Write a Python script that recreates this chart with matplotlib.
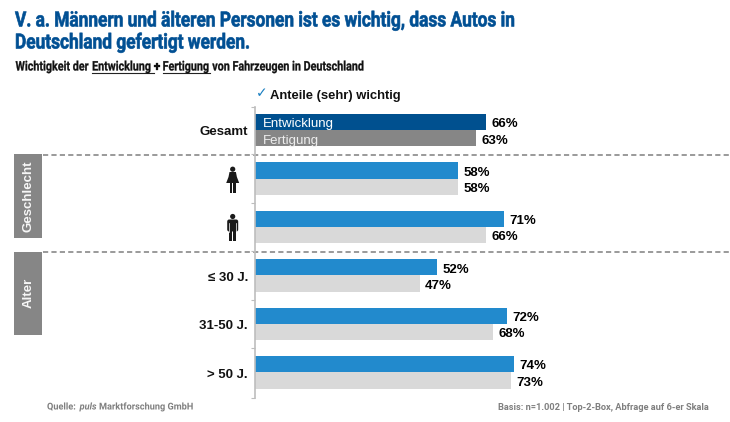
import matplotlib
matplotlib.use('Agg')
import matplotlib.pyplot as plt
from matplotlib.patches import Rectangle, Circle, Polygon, FancyBboxPatch
from matplotlib.patheffects import AbstractPathEffect
from matplotlib.transforms import Affine2D

# data
groups = ['Gesamt', 'w', 'm', '≤ 30 J.', '31-50 J.', '> 50 J.']
entwicklung = [66, 58, 71, 52, 72, 74]
fertigung = [63, 58, 66, 47, 68, 73]
colors_top = ['#00508f', '#228acd', '#228acd', '#228acd', '#228acd', '#228acd']
colors_bottom = ['#868686', '#d9d9d9', '#d9d9d9', '#d9d9d9', '#d9d9d9', '#d9d9d9']

arial = 'Liberation Sans'
W, H = 730, 422


# no condensed font installed, so squeeze the glyphs of real text sideways
class Condense(AbstractPathEffect):
    def __init__(self, sx, x0, heavy=0):
        super().__init__()
        self.sx = sx
        self.x0 = x0
        self.heavy = heavy

    def draw_path(self, renderer, gc, tpath, affine, rgbFace=None):
        squeeze = Affine2D().translate(-self.x0, 0).scale(self.sx, 1).translate(self.x0, 0)
        gc0 = renderer.new_gc()
        gc0.copy_properties(gc)
        if self.heavy:
            gc0.set_linewidth(self.heavy)
            gc0.set_foreground(rgbFace)
        renderer.draw_path(gc0, tpath, affine + squeeze, rgbFace)
        gc0.restore()


fig = plt.figure(figsize=(7.3, 4.22), dpi=100)

# bars: 3.5 px per percent, group spacing 48.4 px
ax = fig.add_axes([255 / W, 1 - 397.5 / H, 350 / W, 290 / H])
ax.set_xlim(0, 100)
ax.set_ylim(5.52, -0.47)
ax.patch.set_alpha(0)
h = 0.335
dy = 0.045
ypos = list(range(len(groups)))
ax.barh([y - h / 2 for y in ypos], entwicklung, height=h, color=colors_top)
ax.barh([y + h / 2 for y in ypos], fertigung, height=h, color=colors_bottom)
for y, a, b in zip(ypos, entwicklung, fertigung):
    ax.text(a + 1.6, y - h / 2 + dy, f'{a}%', va='center', ha='left', fontsize=9.5,
            fontweight='bold', family=arial, color='#000000')
    ax.text(b + 1.6, y + h / 2 + dy, f'{b}%', va='center', ha='left', fontsize=9.5,
            fontweight='bold', family=arial, color='#000000')
ax.text(2.2, -h / 2 + dy, 'Entwicklung', va='center', fontsize=9.5, color='white', family=arial)
ax.text(2.2, h / 2 + dy, 'Fertigung', va='center', fontsize=9.5, color='#eeeeee', family=arial)
for s in ['top', 'right', 'bottom']:
    ax.spines[s].set_visible(False)
ax.spines['left'].set_color('#bdbdbd')
ax.spines['left'].set_linewidth(1.2)
ax.set_xticks([])
ax.set_yticks([i + 0.5 for i in ypos[:-1]] + [-0.47, 5.52])
ax.set_yticklabels([])
ax.tick_params(axis='y', length=3, color='#bdbdbd', width=0.8)

for y, g in zip(ypos, groups):
    if g in ('w', 'm'):
        continue
    ax.text(-2, y + dy, g, ha='right', va='center', fontsize=9.5, fontweight='bold',
            family=arial, color='#111111')

# overlays in pixel coordinates for decorations
ov = fig.add_axes([0, 0, 1, 1], zorder=-1)
ov.set_xlim(0, W)
ov.set_ylim(H, 0)
ov.axis('off')
top = fig.add_axes([0, 0, 1, 1], zorder=5)
top.set_xlim(0, W)
top.set_ylim(H, 0)
top.axis('off')

for y in [155, 252]:
    ov.plot([43, W], [y, y], color='#7f7f7f', lw=1.1, dashes=(3.4, 2.1))
top.add_patch(Rectangle((14, 154), 28, 84, color='#868686', lw=0))
top.add_patch(Rectangle((14, 252), 28, 83, color='#868686', lw=0))
top.text(28.5, 196.5, 'Geschlecht', rotation=90, ha='center', va='center', color='#f7f7f7',
         fontsize=9.5, fontweight='bold', family=arial)
top.text(28.5, 292.5, 'Alter', rotation=90, ha='center', va='center', color='#f7f7f7',
         fontsize=9.5, fontweight='bold', family=arial)


# person icons
def woman(cx, cy):
    c = '#1a1a1a'
    top.add_patch(Circle((cx, cy - 10.8), 2.6, color=c, lw=0))
    top.add_patch(Polygon([(cx - 3.2, cy - 8), (cx + 3.2, cy - 8), (cx + 4.2, cy - 3), (cx + 6.5, cy + 3),
                           (cx - 6.5, cy + 3), (cx - 4.2, cy - 3)], color=c, lw=0))
    top.add_patch(Rectangle((cx - 2.8, cy + 3), 2.3, 10, color=c, lw=0))
    top.add_patch(Rectangle((cx + 0.5, cy + 3), 2.3, 10, color=c, lw=0))


def man(cx, cy):
    c = '#1a1a1a'
    top.add_patch(Circle((cx, cy - 11.5), 2.6, color=c, lw=0))
    top.add_patch(FancyBboxPatch((cx - 5.5, cy - 8.5), 11, 12, boxstyle='round,pad=0,rounding_size=2', color=c, lw=0))
    top.add_patch(Rectangle((cx - 3.4, cy), 3.0, 13, color=c, lw=0))
    top.add_patch(Rectangle((cx + 0.4, cy), 3.0, 13, color=c, lw=0))
    top.plot([cx - 3.6, cx - 3.6], [cy - 5, cy + 4], color='white', lw=0.5)
    top.plot([cx + 3.6, cx + 3.6], [cy - 5, cy + 4], color='white', lw=0.5)


woman(232.7, 180)
man(232.7, 228)

# titles
blue = '#004f93'
sq = [Condense(0.83, 15, heavy=0.45)]
top.text(15, 21, 'V. a. Männern und älteren Personen ist es wichtig, dass Autos in',
         fontsize=15, fontweight='bold', family='Roboto', color=blue, va='center', path_effects=sq)
top.text(15, 43, 'Deutschland gefertigt werden.',
         fontsize=15, fontweight='bold', family='Roboto', color=blue, va='center', path_effects=sq)

# subtitle pieces, two of them underlined
fig.canvas.draw()
r = fig.canvas.get_renderer()
sub_sx = 0.815
x = 15.5
for part, ul in [('Wichtigkeit der ', False), ('Entwicklung ', True), ('+ ', False),
                 ('Fertigung', True), (' von Fahrzeugen in Deutschland', False)]:
    t = top.text(x, 67, part.replace(' ', '\u00a0'), fontsize=9.5, fontweight='bold', family='Roboto',
                 color='#111111', va='center', path_effects=[Condense(sub_sx, 15.5, heavy=0.2)])
    w = t.get_window_extent(r).width
    if ul:
        x1 = 15.5 + (x - 15.5) * sub_sx
        top.plot([x1, x1 + w * sub_sx], [73, 73], color='#222222', lw=0.8)
    x += w

top.text(255.5, 93.5, '✓', fontsize=10, color='#1a7fc1', family='DejaVu Sans', fontweight='bold', va='center')
top.text(270, 96, 'Anteile (sehr) wichtig', fontsize=9.4, fontweight='bold', family=arial,
         color='#111111', va='center')

# footer
grey = '#7f7f7f'
foot = [Condense(0.97, 47)]
t = top.text(47, 407, 'Quelle: ', fontsize=6.8, fontweight='bold', family='Roboto', color=grey, va='center', path_effects=foot)
x = 47 + t.get_window_extent(r).width + 1.5
t = top.text(x, 407, 'puls', fontsize=6.8, fontweight='bold', style='italic', family='Roboto', color=grey, va='center', path_effects=foot)
x += t.get_window_extent(r).width + 2.5
top.text(x, 407, 'Marktforschung GmbH', fontsize=6.8, fontweight='bold', family='Roboto', color=grey, va='center', path_effects=foot)
top.text(709, 407, 'Basis: n=1.002 | Top-2-Box, Abfrage auf 6-er Skala', fontsize=6.7, fontweight='bold',
         family='Roboto', color=grey, va='center', ha='right')

fig.savefig('out.png', dpi=100)
